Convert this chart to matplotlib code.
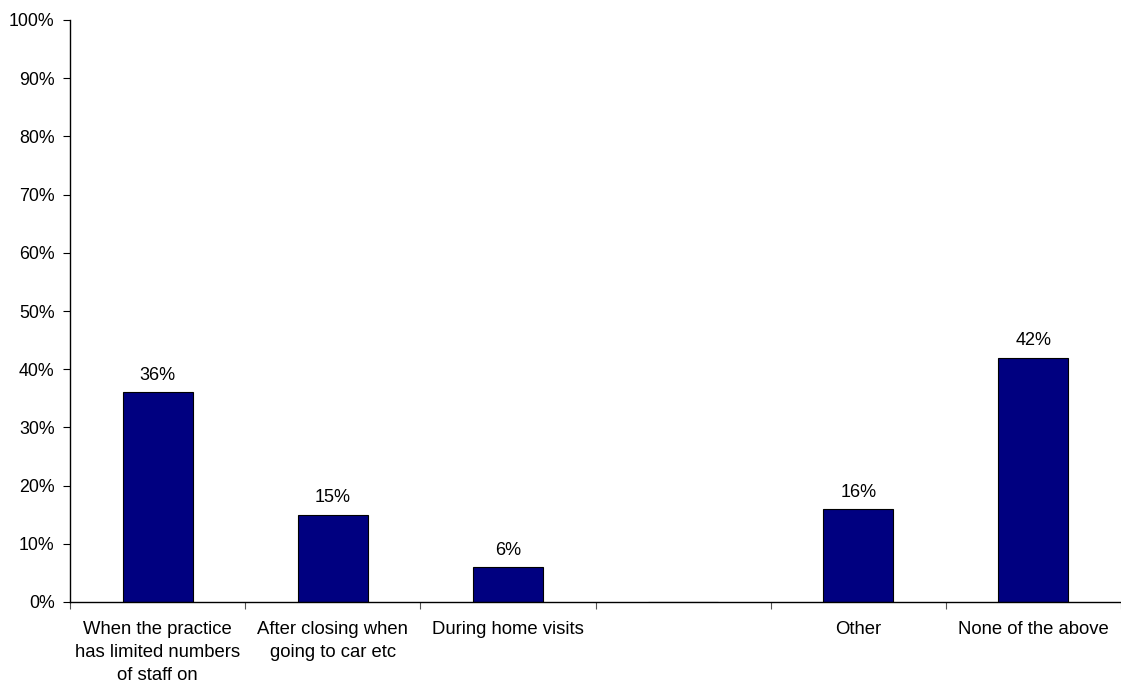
import matplotlib.pyplot as plt
import numpy as np

categories = ["When the practice\nhas limited numbers\nof staff on",
              "After closing when\ngoing to car etc",
              "During home visits",
              "",
              "Other",
              "None of the above"]
values = [36, 15, 6, np.nan, 16, 42]
yticks = [0, 10, 20, 30, 40, 50, 60, 70, 80, 90, 100]

plt.rcParams['font.family'] = ['Liberation Sans', 'DejaVu Sans']

fig = plt.figure(figsize=(11.21, 6.82), dpi=100)
ax = fig.add_axes([70 / 1121, 80 / 682, 1 - 70 / 1121, 582 / 682])

x = np.arange(len(categories)) + 0.5
ax.bar(x, np.nan_to_num(values), width=0.4, color='#000080', edgecolor='black', linewidth=0.8)

# value labels over each bar
for xi, v in zip(x, values):
    if not np.isnan(v):
        ax.annotate('%d%%' % v, (xi, v), xytext=(0, 6), textcoords='offset points',
                    ha='center', va='bottom', fontsize=13)

ax.set_xlim(0, len(categories))
ax.set_ylim(0, 100)
ax.set_yticks(yticks)
ax.set_yticklabels(['%d%%' % t for t in yticks])

# ticks at the category boundaries, labels at the centres
ax.set_xticks(np.arange(len(categories) + 1))
ax.set_xticklabels([])
ax.set_xticks(x, minor=True)
ax.set_xticklabels(categories, minor=True, fontsize=13.3, linespacing=1.45, va='top')
ax.tick_params(axis='x', which='minor', length=0, pad=14)
ax.tick_params(axis='x', which='major', length=5, color='#555555')
ax.tick_params(axis='y', length=5, pad=6, labelsize=12.8)

for s in ['top', 'right']:
    ax.spines[s].set_visible(False)
ax.spines['left'].set_linewidth(1)
ax.spines['bottom'].set_linewidth(1)

fig.savefig('out.png', dpi=100)
